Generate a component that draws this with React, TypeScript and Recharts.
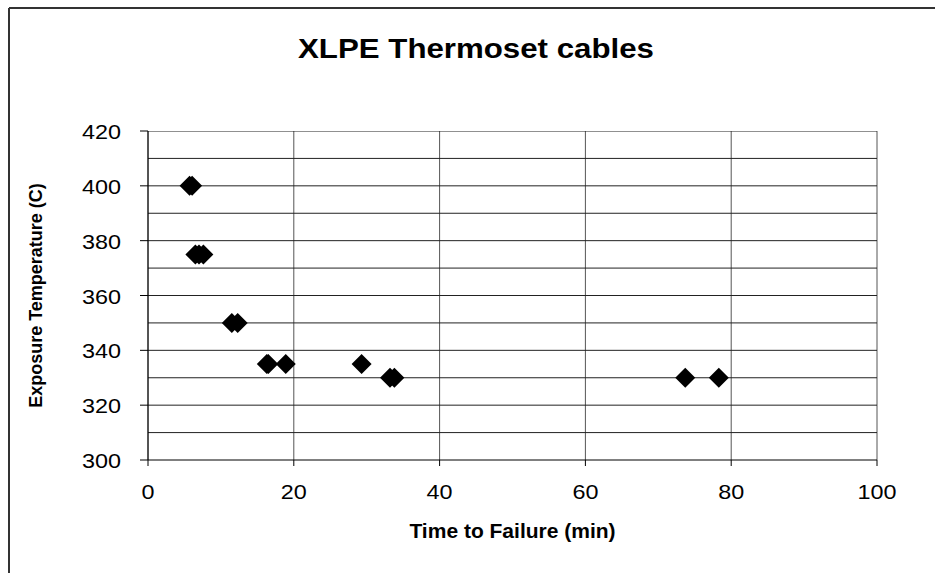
import React from "react";
import {
  ScatterChart,
  Scatter,
  XAxis,
  YAxis,
  CartesianGrid,
  ReferenceLine,
} from "recharts";

// time to failure (min) and exposure temperature (C)
const failureMinutes = [5.7, 6.05, 6.5, 7.0, 7.6, 11.5, 12.3, 16.3, 16.5, 18.9, 29.3, 33.2, 33.8, 73.7, 78.3];
const exposureTemps = [400, 400, 375, 375, 375, 350, 350, 335, 335, 335, 335, 330, 330, 330, 330];

const xTicks = [0, 20, 40, 60, 80, 100];
const yTicks = [300, 320, 340, 360, 380, 400, 420];
const yGridLines = [310, 320, 330, 340, 350, 360, 370, 380, 390, 400, 410, 420];

const data = failureMinutes.map((x, i) => ({ x, y: exposureTemps[i] }));

const FONT = "'Liberation Sans', Arial, sans-serif";

const Diamond = (props: any) => {
  const { cx, cy } = props;
  const r = 10;
  return (
    <polygon
      points={`${cx},${cy - r} ${cx + r},${cy} ${cx},${cy + r} ${cx - r},${cy}`}
      fill="#000"
    />
  );
};

const XTick = ({ x, y, payload }: any) => {
  const s = String(payload.value);
  return (
    <text
      x={x}
      y={y + 31}
      textAnchor="middle"
      fontFamily={FONT}
      fontSize={21}
      fill="#000"
      textLength={s.length * 13}
      lengthAdjust="spacingAndGlyphs"
    >
      {s}
    </text>
  );
};

const YTick = ({ x, y, payload }: any) => {
  const s = String(payload.value);
  return (
    <text
      x={x - 17}
      y={y + 8}
      textAnchor="end"
      fontFamily={FONT}
      fontSize={21}
      fill="#000"
      textLength={s.length * 13}
      lengthAdjust="spacingAndGlyphs"
    >
      {s}
    </text>
  );
};

export default function App() {
  return (
    <div style={{ position: "relative", width: 935, height: 573, background: "#fff" }}>
      <style>{"html,body{margin:0;padding:0;overflow:hidden;}"}</style>
      {/* title and the chart frame; only its left and top edges fall inside the picture */}
      <svg width={935} height={573} style={{ position: "absolute", left: 0, top: 0 }}>
        <line x1={9} y1={8} x2={935} y2={8} stroke="#333" strokeWidth={2} />
        <line x1={9} y1={8} x2={9} y2={573} stroke="#333" strokeWidth={2} />
        <text
          x={476}
          y={58}
          textAnchor="middle"
          fontFamily={FONT}
          fontWeight="bold"
          fontSize={28}
          textLength={356}
          lengthAdjust="spacingAndGlyphs"
        >
          XLPE Thermoset cables
        </text>
      </svg>
      <div style={{ position: "absolute", left: 0, top: 0 }}>
        <ScatterChart
          width={935}
          height={573}
          margin={{ top: 131, right: 58, bottom: 23, left: 28 }}
        >
          <CartesianGrid horizontal={false} stroke="#555" strokeWidth={1} />
          {yGridLines.map((v) => (
            <ReferenceLine key={v} y={v} stroke="#222" strokeWidth={1} ifOverflow="hidden" />
          ))}
          <XAxis
            type="number"
            dataKey="x"
            domain={[0, 100]}
            ticks={xTicks}
            tick={<XTick />}
            tickSize={6}
            axisLine={{ stroke: "#000" }}
            tickLine={{ stroke: "#000" }}
            height={90}
            label={{
              value: "Time to Failure (min)",
              position: "insideBottom",
              offset: 12,
              fontFamily: FONT,
              fontWeight: "bold",
              fontSize: 21,
              fill: "#000",
            }}
          />
          <YAxis
            type="number"
            dataKey="y"
            domain={[300, 420]}
            ticks={yTicks}
            tick={<YTick />}
            tickSize={8}
            axisLine={{ stroke: "#000" }}
            tickLine={{ stroke: "#000" }}
            width={120}
            label={{
              value: "Exposure Temperature (C)",
              angle: -90,
              position: "insideLeft",
              offset: 8,
              style: { textAnchor: "middle" },
              fontFamily: FONT,
              fontWeight: "bold",
              fontSize: 18,
              fill: "#000",
            }}
          />
          <Scatter data={data} shape={<Diamond />} isAnimationActive={false} />
        </ScatterChart>
      </div>
    </div>
  );
}
